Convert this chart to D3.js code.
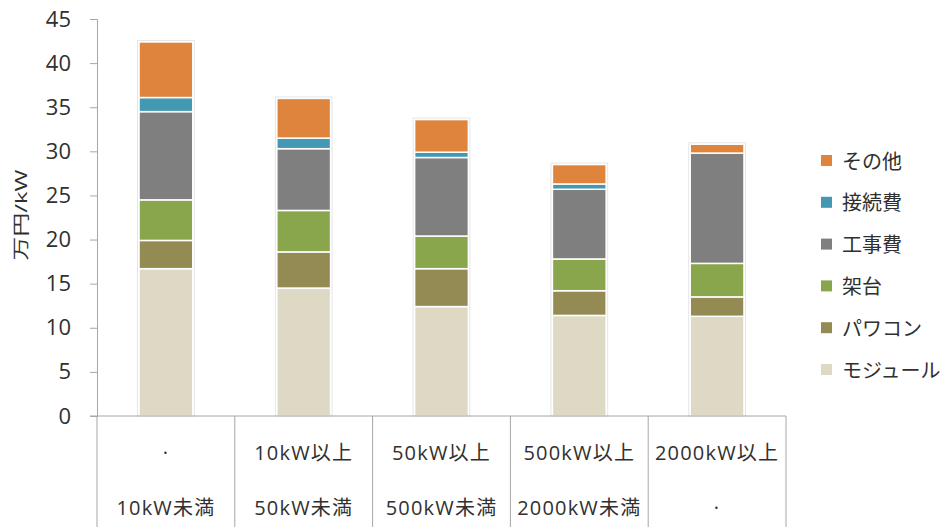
<!DOCTYPE html>
<html>
<head>
<meta charset="utf-8">
<script src="https://cdn.jsdelivr.net/npm/d3@7"></script>
<style>
  body { margin: 0; background: #fff; }
  svg text { font-family: "Open Sans", "Noto Sans CJK JP", sans-serif; fill: #303030; }
</style>
</head>
<body>
<svg class="main"></svg>
<script>
// data (万円/kW)
let categories = ['10kW未満', '10-50kW', '50-500kW', '500-2000kW', '2000kW以上'];
let labelTop = ['·', '10kW以上', '50kW以上', '500kW以上', '2000kW以上'];
let labelBottom = ['10kW未満', '50kW未満', '500kW未満', '2000kW未満', '·'];
let seriesNames = ['モジュール', 'パワコン', '架台', '工事費', '接続費', 'その他'];
let module_ = [16.7, 14.5, 12.4, 11.4, 11.3];
let powercon = [3.2, 4.1, 4.3, 2.8, 2.2];
let frame = [4.6, 4.7, 3.7, 3.6, 3.8];
let construction = [10.0, 7.0, 8.9, 7.9, 12.5];
let connection = [1.6, 1.2, 0.6, 0.6, 0.0];
let other = [6.3, 4.5, 3.7, 2.2, 1.0];
let yTicks = [0, 5, 10, 15, 20, 25, 30, 35, 40, 45];
let colors = ['#DDD9C4', '#948A54', '#89A64C', '#7F7F7F', '#4399B2', '#DE843C'];

let w = 950, h = 527;
let padLeft = 97, padRight = 786, padTop = 19, padBottom = 416;

let svg = d3.select('.main').attr('width', w).attr('height', h);

let table = categories.map((c, i) => ({
  cat: c,
  'モジュール': module_[i], 'パワコン': powercon[i], '架台': frame[i],
  '工事費': construction[i], '接続費': connection[i], 'その他': other[i]
}));
let stacked = d3.stack().keys(seriesNames)(table);

let x = d3.scaleBand().domain(categories).range([padLeft, padRight]).paddingInner(0.61).paddingOuter(0.305);
let xCat = d3.scaleBand().domain(categories).range([padLeft, padRight]);
let y = d3.scaleLinear().domain([0, 45]).range([padBottom, padTop]);
let color = d3.scaleOrdinal().domain(seriesNames).range(colors);

// y axis
let yAxis = svg.append('g')
  .attr('transform', `translate(${padLeft},0)`)
  .call(d3.axisLeft(y).tickValues(yTicks).tickSize(7).tickPadding(19));
yAxis.select('.domain').attr('stroke', '#a6a6a6');
yAxis.selectAll('.tick line').attr('stroke', '#a6a6a6');
yAxis.selectAll('.tick text').attr('font-size', 22).attr('font-family', null).style('fill', '#303030');

svg.append('text')
  .attr('transform', `translate(20,215) rotate(-90) scale(1.4,1)`)
  .attr('text-anchor', 'middle')
  .attr('dominant-baseline', 'central')
  .attr('font-size', 17)
  .text('万円/kW');

// bars
svg.append('g').selectAll('g')
  .data(stacked)
  .enter()
  .append('g')
  .attr('fill', d => color(d.key))
  .selectAll('rect')
  .data(d => d)
  .enter()
  .append('rect')
  .attr('x', d => x(d.data.cat))
  .attr('width', x.bandwidth())
  .attr('y', d => y(d[1]))
  .attr('height', d => Math.max(0, y(d[0]) - y(d[1])))
  .attr('stroke', '#fff')
  .attr('stroke-width', 1.5);

// bar outline shadow
svg.append('g').selectAll('rect')
  .data(table)
  .enter()
  .append('rect')
  .attr('x', d => x(d.cat) - 1.5)
  .attr('width', x.bandwidth() + 3)
  .attr('y', d => y(d3.sum(seriesNames, k => d[k])) - 1.5)
  .attr('height', d => padBottom - y(d3.sum(seriesNames, k => d[k])) + 1.5)
  .attr('fill', 'none')
  .attr('stroke', '#e6e6e6')
  .attr('stroke-width', 1);

// x axis with category boxes
let xg = svg.append('g');
xg.append('line')
  .attr('x1', padLeft - 7).attr('x2', padRight)
  .attr('y1', padBottom).attr('y2', padBottom)
  .attr('stroke', '#a6a6a6');
xg.selectAll('line.sep')
  .data(categories.concat(['end']))
  .enter()
  .append('line')
  .attr('class', 'sep')
  .attr('x1', (d, i) => i < categories.length ? xCat(d) : padRight)
  .attr('x2', (d, i) => i < categories.length ? xCat(d) : padRight)
  .attr('y1', padBottom).attr('y2', h)
  .attr('stroke', '#a6a6a6');
xg.selectAll('text.top')
  .data(labelTop)
  .enter()
  .append('text')
  .attr('x', (d, i) => xCat(categories[i]) + xCat.bandwidth() / 2)
  .attr('y', 452)
  .attr('text-anchor', 'middle')
  .attr('dominant-baseline', 'central')
  .attr('font-size', 20)
  .attr('letter-spacing', 1.2)
  .text(d => d);
xg.selectAll('text.bot')
  .data(labelBottom)
  .enter()
  .append('text')
  .attr('x', (d, i) => xCat(categories[i]) + xCat.bandwidth() / 2)
  .attr('y', 507)
  .attr('text-anchor', 'middle')
  .attr('dominant-baseline', 'central')
  .attr('font-size', 20)
  .attr('letter-spacing', 1.2)
  .text(d => d);

// legend
let legend = svg.append('g')
  .selectAll('g')
  .data(seriesNames.slice().reverse())
  .enter()
  .append('g')
  .attr('transform', (d, i) => `translate(821,${161 + i * 41.8})`);
legend.append('rect')
  .attr('x', 0).attr('y', -6)
  .attr('width', 11).attr('height', 11)
  .attr('fill', d => color(d));
legend.append('text')
  .attr('x', 21).attr('y', 0)
  .attr('dominant-baseline', 'central')
  .attr('font-size', 20)
  .text(d => d);
</script>
</body>
</html>
